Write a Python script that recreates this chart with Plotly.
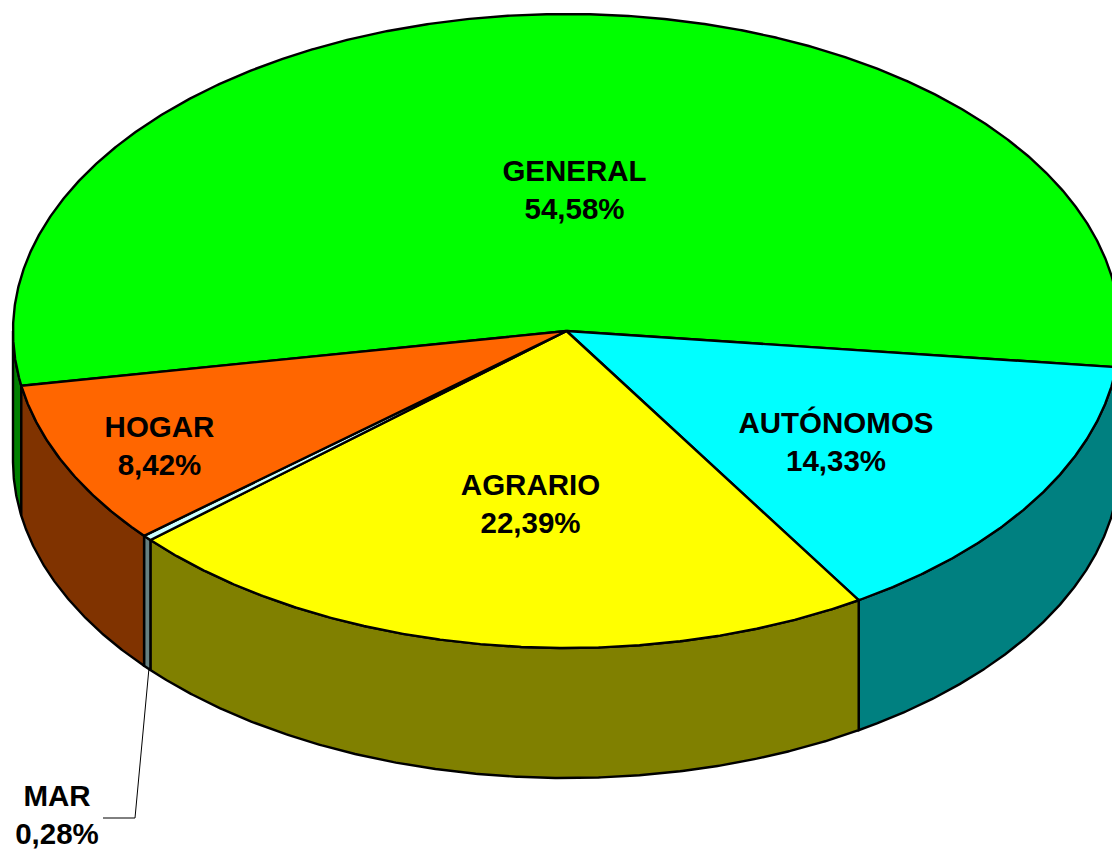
import math
import plotly.graph_objects as go

# Data
categories = ["GENERAL", "AUTÓNOMOS", "AGRARIO", "MAR", "HOGAR"]
values = [54.58, 14.33, 22.39, 0.28, 8.42]
value_labels = ["54,58%", "14,33%", "22,39%", "0,28%", "8,42%"]

# Styles
top_colors = ["#00FF00", "#00FFFF", "#FFFF00", "#CCFFFF", "#FF6600"]
side_colors = ["#008000", "#008080", "#808000", "#668080", "#803300"]

# Layout geometry (pixels)
W, H = 1112, 850
CX, CY, RX, RY, DEPTH = 566.5, 331.0, 553.5, 317.0, 130.0
START_DEG = -6.55  # right end of GENERAL
FONT_SIZE = 29.5
LINE_W = 2.4
label_xy = {
    "GENERAL": (574.5, 192.5),
    "AUTÓNOMOS": (836, 444.5),
    "AGRARIO": (530.5, 506.5),
    "HOGAR": (159.5, 448.5),
    "MAR": (57, 817.5),
}
leader_xy = ([149, 135, 103], [668, 818, 818])


def pt(deg, dy=0.0):
    a = math.radians(deg)
    return CX + RX * math.cos(a), CY - RY * math.sin(a) + dy


def arc(a0, a1, dy=0.0):
    n = max(3, int(abs(a1 - a0) * 4))
    return [pt(a0 + (a1 - a0) * i / n, dy) for i in range(n + 1)]


total = sum(values)
spans = []
cur = START_DEG
# GENERAL goes counter-clockwise from START; the rest run clockwise from START.
spans.append((cur, cur + values[0] / total * 360))
for v in values[1:]:
    nxt = cur - v / total * 360
    spans.append((nxt, cur))
    cur = nxt

fig = go.Figure()


def poly(points, fill, width=LINE_W):
    fig.add_trace(go.Scatter(
        x=[p[0] for p in points], y=[p[1] for p in points],
        mode="lines", fill="toself", fillcolor=fill,
        line=dict(color="#000000", width=width),
        hoverinfo="skip", showlegend=False,
    ))


# Side walls: only the part of each slice on the front half of the rim
for (a0, a1), col in zip(spans, side_colors):
    if a1 > 180:
        v0, v1 = 180.0, a1
    else:
        v0, v1 = a0, min(a1, 0.0)
    if v1 <= v0:
        continue
    top = arc(v0, v1)
    bottom = arc(v1, v0, DEPTH)
    poly(top + bottom + [top[0]], col)

# Top faces
for (a0, a1), col in zip(spans, top_colors):
    pts = [(CX, CY)] + arc(a0, a1) + [(CX, CY)]
    poly(pts, col)

# Leader line for the small slice
fig.add_trace(go.Scatter(
    x=leader_xy[0], y=leader_xy[1], mode="lines",
    line=dict(color="#000000", width=1),
    hoverinfo="skip", showlegend=False,
))

# Labels
for name, val in zip(categories, value_labels):
    x, y = label_xy[name]
    fig.add_trace(go.Scatter(
        x=[x], y=[y], mode="text",
        text=[f"<b>{name}<br>{val}</b>"],
        textposition="middle center",
        textfont=dict(family="Liberation Sans", size=FONT_SIZE, color="#000000"),
        hoverinfo="skip", showlegend=False, cliponaxis=False,
    ))

fig.update_layout(
    width=W, height=H, autosize=False,
    margin=dict(l=0, r=0, t=0, b=0),
    paper_bgcolor="#FFFFFF", plot_bgcolor="#FFFFFF",
    xaxis=dict(range=[0, W], visible=False, fixedrange=True),
    yaxis=dict(range=[H, 0], visible=False, fixedrange=True),
)
fig.write_html(
    "out.html",
    config={"displayModeBar": False},
    post_script="document.body.style.margin='0';document.documentElement.style.overflow='hidden';",
)
